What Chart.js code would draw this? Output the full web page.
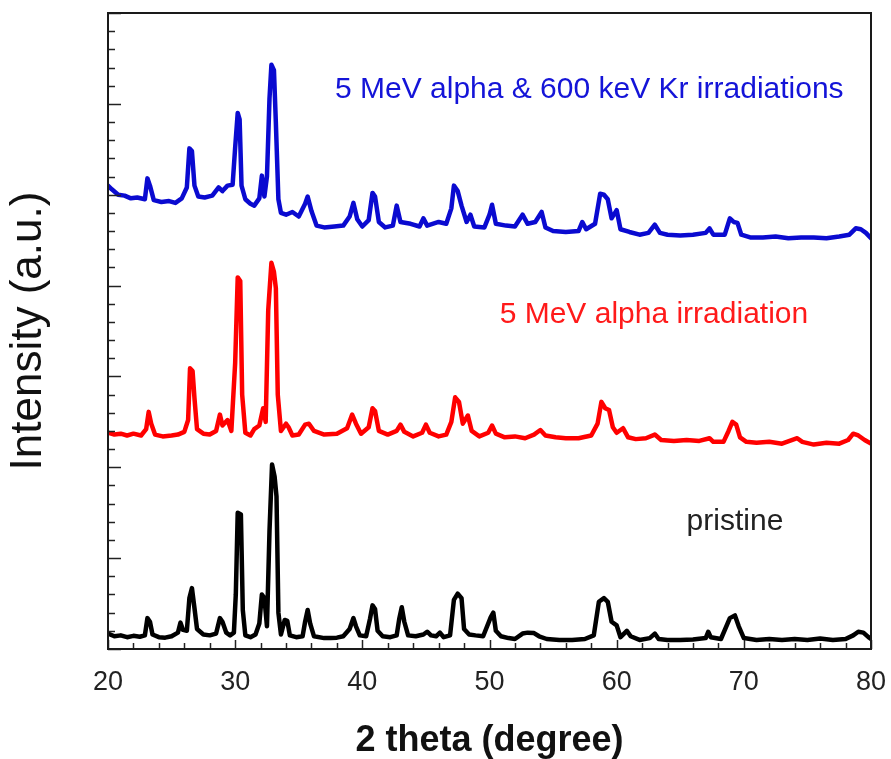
<!DOCTYPE html>
<html>
<head>
<meta charset="utf-8">
<script src="https://cdn.jsdelivr.net/npm/chart.js@4.4.0/dist/chart.umd.min.js"></script>
<style>
  body { margin: 0; background: #fff; }
  canvas { display: block; }
</style>
</head>
<body>
<canvas id="xrdChart" width="891" height="759"></canvas>
<script>
// 2 theta positions and intensities (counts, arbitrary offset per pattern)
const pristineX = [20.0, 20.5, 21.0, 21.5, 22.0, 22.5, 22.9, 23.1, 23.3, 23.5, 24.0, 24.5, 25.0, 25.5, 25.7, 25.9,
    26.2, 26.4, 26.6, 26.8, 27.0, 27.5, 28.0, 28.5, 28.8, 29.0, 29.3, 29.6, 29.9, 30.05, 30.2, 30.45, 30.6, 30.8,
    31.2, 31.6, 31.9, 32.1, 32.3, 32.5, 32.7, 32.9, 33.1, 33.25, 33.4, 33.6, 33.9, 34.1, 34.3, 34.8, 35.3, 35.5,
    35.7, 35.9, 36.2, 37.0, 37.5, 38.0, 38.5, 39.0, 39.3, 39.5, 39.8, 40.3, 40.6, 40.8, 41.0, 41.2, 41.6, 42.2,
    42.7, 42.9, 43.1, 43.3, 43.6, 44.2, 44.8, 45.1, 45.4, 45.8, 46.1, 46.4, 46.9, 47.2, 47.5, 47.8, 48.0, 48.4,
    48.9, 49.5, 50.1, 50.3, 50.5, 50.9, 51.5, 52.0, 52.6, 53.0, 53.5, 53.9, 54.5, 55.5, 56.5, 57.5, 58.2, 58.6,
    59.0, 59.3, 59.6, 60.0, 60.3, 60.8, 61.1, 61.8, 62.6, 63.0, 63.3, 64.0, 65.0, 66.0, 67.0, 67.2, 67.4, 68.2,
    68.9, 69.3, 69.6, 70.0, 71.0, 72.0, 73.0, 74.0, 75.0, 76.0, 77.0, 78.0, 78.6, 79.0, 79.4, 79.8, 80.0];
const pristineY = [170, 140, 150, 130, 145, 135, 150, 340, 300, 160, 130, 125, 140, 180, 290, 210,
    200, 560, 670, 450, 220, 160, 150, 170, 340, 300, 180, 150, 180, 600, 1500, 1480, 430, 150,
    130, 160, 280, 600, 560, 250, 1300, 2030, 1900, 1680, 400, 160, 320, 310, 150, 130, 140, 300,
    430, 280, 140, 120, 120, 125, 140, 220, 340, 250, 150, 140, 330, 480, 440, 200, 140, 130,
    150, 330, 460, 300, 150, 140, 160, 190, 150, 140, 180, 130, 150, 540, 610, 560, 220, 160,
    150, 140, 350, 400, 200, 140, 120, 110, 170, 180, 175, 140, 110, 100, 100, 110, 150, 520,
    560, 520, 300, 260, 130, 200, 140, 100, 120, 170, 110, 100, 100, 105, 120, 190, 130, 110,
    340, 370, 250, 120, 100, 110, 100, 110, 100, 115, 100, 110, 150, 190, 180, 130, 110];

const alphaX = [20.0, 20.5, 21.0, 21.5, 22.0, 22.6, 23.0, 23.2, 23.4, 23.7, 24.3, 25.0, 25.5, 26.0, 26.3, 26.45,
    26.65, 26.8, 27.0, 27.5, 28.0, 28.5, 28.8, 29.0, 29.4, 29.7, 30.0, 30.2, 30.4, 30.55, 30.8, 31.2, 31.5, 31.9,
    32.2, 32.4, 32.6, 32.85, 33.05, 33.2, 33.35, 33.6, 34.0, 34.2, 34.5, 35.0, 35.5, 35.8, 36.2, 37.0, 38.0, 38.8,
    39.2, 39.5, 39.9, 40.5, 40.8, 41.0, 41.3, 42.0, 42.7, 43.0, 43.3, 44.0, 44.7, 45.0, 45.3, 46.0, 46.6, 47.0,
    47.3, 47.6, 47.9, 48.3, 48.6, 49.2, 49.9, 50.2, 50.5, 51.2, 52.0, 52.8, 53.5, 54.0, 54.4, 55.2, 56.0, 57.0,
    58.0, 58.5, 58.8, 59.1, 59.4, 59.7, 60.0, 60.5, 60.9, 61.5, 62.3, 63.0, 63.5, 64.5, 65.5, 66.5, 67.3, 67.6,
    68.4, 68.8, 69.1, 69.4, 69.7, 70.2, 71.0, 72.0, 73.0, 74.2, 74.6, 75.5, 76.5, 77.5, 78.2, 78.6, 79.0, 79.5, 80.0];
const alphaY = [2380, 2360, 2370, 2350, 2370, 2350, 2420, 2610, 2480, 2360, 2340, 2350, 2360, 2390, 2520, 3090,
    3060, 2760, 2420, 2370, 2360, 2400, 2580, 2460, 2520, 2400, 3150, 4090, 4050, 2800, 2380, 2350, 2420, 2460,
    2650, 2500, 3730, 4250, 4150, 3970, 2800, 2400, 2480, 2440, 2350, 2360, 2470, 2480, 2400, 2360, 2370, 2430,
    2580, 2480, 2370, 2440, 2650, 2620, 2400, 2360, 2400, 2470, 2390, 2340, 2380, 2470, 2380, 2340, 2360, 2500,
    2770, 2720, 2480, 2570, 2400, 2340, 2380, 2460, 2370, 2330, 2340, 2320, 2360, 2410, 2350, 2330, 2320, 2320,
    2350, 2480, 2720, 2650, 2630, 2440, 2380, 2430, 2330, 2310, 2320, 2360, 2300, 2290, 2300, 2290, 2320, 2280,
    2280, 2400, 2500, 2470, 2330, 2280, 2270, 2280, 2260, 2320, 2280, 2250, 2270, 2260, 2300, 2370, 2350, 2300, 2260];

const alphaKrX = [20.0, 20.3, 20.8, 21.3, 21.8, 22.3, 22.9, 23.1, 23.3, 23.6, 24.2, 24.8, 25.3, 25.8, 26.2, 26.4,
    26.6, 26.8, 27.1, 27.6, 28.2, 28.7, 29.0, 29.4, 29.8, 30.0, 30.2, 30.35, 30.5, 30.8, 31.2, 31.5, 31.9, 32.1,
    32.3, 32.5, 32.7, 32.85, 33.05, 33.2, 33.4, 33.6, 34.0, 34.5, 35.0, 35.5, 35.7, 36.0, 36.4, 37.0, 37.8, 38.5,
    39.0, 39.3, 39.6, 40.0, 40.5, 40.8, 41.0, 41.3, 41.8, 42.4, 42.7, 43.0, 43.8, 44.5, 44.8, 45.1, 46.0, 46.6,
    47.0, 47.2, 47.5, 47.8, 48.2, 48.5, 48.8, 49.6, 50.0, 50.2, 50.5, 51.3, 52.0, 52.6, 53.0, 53.6, 54.1, 54.4,
    55.0, 56.0, 57.0, 57.3, 57.6, 58.3, 58.7, 59.0, 59.3, 59.6, 60.0, 60.3, 61.0, 61.8, 62.5, 63.0, 63.4, 64.0,
    65.0, 66.0, 67.0, 67.3, 67.6, 68.5, 68.9, 69.2, 69.5, 69.8, 70.5, 71.5, 72.5, 73.5, 74.5, 75.5, 76.5, 77.5,
    78.3, 78.8, 79.2, 79.6, 80.0];
const alphaKrY = [5100, 5060, 5000, 4990, 4960, 4970, 4950, 5180, 5100, 4940, 4920, 4930, 4910, 4960, 5080, 5510,
    5480, 5100, 4980, 4970, 4990, 5080, 5040, 5100, 5110, 5520, 5900, 5830, 5100, 4950, 4900, 4880, 4960, 5210,
    4980, 5200, 6060, 6430, 6370, 5790, 4950, 4800, 4780, 4810, 4760, 4900, 4980, 4820, 4660, 4640, 4650, 4660,
    4760, 4910, 4730, 4650, 4720, 5020, 4980, 4700, 4640, 4660, 4880, 4700, 4680, 4650, 4740, 4660, 4700, 4680,
    4850, 5100, 5040, 4880, 4700, 4780, 4650, 4640, 4780, 4890, 4680, 4660, 4650, 4780, 4680, 4700, 4810, 4640,
    4600, 4590, 4600, 4700, 4620, 4680, 5010, 5000, 4950, 4740, 4830, 4620, 4590, 4560, 4580, 4670, 4580, 4560,
    4550, 4560, 4580, 4630, 4560, 4560, 4740, 4700, 4690, 4560, 4530, 4530, 4540, 4520, 4530, 4530, 4520, 4540,
    4560, 4630, 4620, 4580, 4520];

const xTicks = [20, 30, 40, 50, 60, 70, 80];

// texts written inside the plot, anchored in data coordinates (2 theta, intensity)
const labelTexts = ['5 MeV alpha & 600 keV Kr irradiations', '5 MeV alpha irradiation', 'pristine'];
const labelAt = [[37.85, 6150], [50.8, 3680], [65.5, 1400]];
const labelColors = ['#1414d8', '#ff1a1a', '#222222'];

const FONT = '"Liberation Sans", Arial, Helvetica, sans-serif';

function toPoints(xs, ys) {
    return xs.map((x, i) => ({ x: x, y: ys[i] }));
}

// frame, inward ticks and in-plot labels
const framePlugin = {
    id: 'frame',
    afterDatasetsDraw(chart) {
        const { ctx, chartArea: a, scales: { x, y } } = chart;
        ctx.save();
        ctx.strokeStyle = '#222';
        ctx.lineWidth = 1.5;

        // x ticks every 2 degrees, longer every 10
        for (let v = 20; v <= 80; v += 2) {
            const px = Math.round(x.getPixelForValue(v)) + 0.5;
            const len = v % 10 === 0 ? 9 : 6;
            ctx.beginPath();
            ctx.moveTo(px, a.bottom);
            ctx.lineTo(px, a.bottom - len);
            ctx.stroke();
        }
        // y ticks every 200, longer every 1000
        for (let v = 0; v <= 7000; v += 200) {
            const py = Math.round(y.getPixelForValue(v)) + 0.5;
            const len = v % 1000 === 0 ? 13 : 7;
            ctx.beginPath();
            ctx.moveTo(a.left, py);
            ctx.lineTo(a.left + len, py);
            ctx.stroke();
        }

        ctx.lineWidth = 2;
        ctx.strokeStyle = '#1a1a1a';
        ctx.strokeRect(a.left, a.top, a.right - a.left, a.bottom - a.top);

        ctx.font = '30px ' + FONT;
        ctx.textAlign = 'left';
        ctx.textBaseline = 'middle';
        labelTexts.forEach((t, i) => {
            ctx.fillStyle = labelColors[i];
            ctx.fillText(t, x.getPixelForValue(labelAt[i][0]), y.getPixelForValue(labelAt[i][1]));
        });
        ctx.restore();
    }
};

new Chart(document.getElementById('xrdChart'), {
    type: 'line',
    data: {
        datasets: [
            { label: 'pristine', data: toPoints(pristineX, pristineY), borderColor: '#000000' },
            { label: '5 MeV alpha irradiation', data: toPoints(alphaX, alphaY), borderColor: '#ff0000' },
            { label: '5 MeV alpha & 600 keV Kr irradiations', data: toPoints(alphaKrX, alphaKrY), borderColor: '#0a0ad0' }
        ]
    },
    options: {
        responsive: false,
        animation: false,
        elements: {
            line: { borderWidth: 4.5, tension: 0, borderJoinStyle: 'round', borderCapStyle: 'round' },
            point: { radius: 0 }
        },
        layout: { padding: { left: 0, right: 20, top: 13, bottom: 0 } },
        plugins: {
            legend: { display: false },
            tooltip: { enabled: false }
        },
        scales: {
            x: {
                type: 'linear',
                min: 20,
                max: 80,
                afterBuildTicks: scale => { scale.ticks = xTicks.map(v => ({ value: v })); },
                afterFit: scale => {
                    scale.height = 110;
                    scale.paddingLeft = 0;
                    scale.paddingRight = 0;
                },
                grid: { display: false, drawTicks: false },
                border: { display: false },
                ticks: {
                    padding: 17,
                    maxRotation: 0,
                    color: '#222',
                    font: { family: FONT, size: 27 }
                },
                title: {
                    display: true,
                    text: '2 theta (degree)',
                    color: '#111',
                    padding: { top: 0, bottom: 0 },
                    font: { family: FONT, size: 36, weight: 'bold', lineHeight: 1 }
                }
            },
            y: {
                type: 'linear',
                min: 0,
                max: 7000,
                afterFit: scale => {
                    scale.width = 108;
                    scale.paddingTop = 0;
                    scale.paddingBottom = 0;
                },
                grid: { display: false, drawTicks: false },
                border: { display: false },
                ticks: { display: false },
                title: {
                    display: true,
                    text: 'Intensity (a.u.)',
                    color: '#111',
                    padding: { top: 7, bottom: 0 },
                    font: { family: FONT, size: 44, lineHeight: 1 }
                }
            }
        }
    },
    plugins: [framePlugin]
});
</script>
</body>
</html>
